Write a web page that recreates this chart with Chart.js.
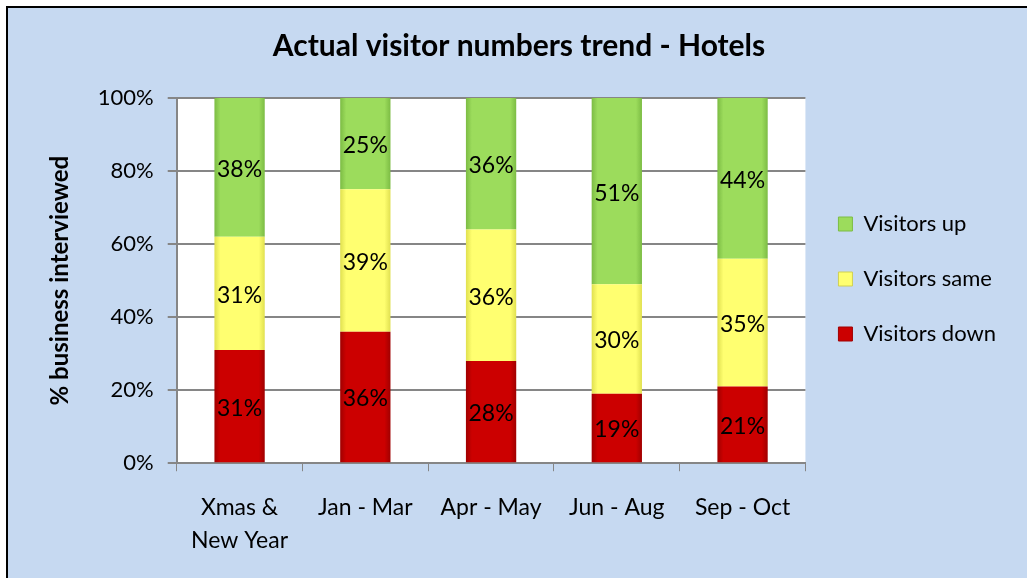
<!DOCTYPE html>
<html>
<head>
<meta charset="utf-8">
<script src="https://cdn.jsdelivr.net/npm/chart.js@4.4.1/dist/chart.umd.min.js"></script>
<style>
  html, body { margin: 0; padding: 0; background: #fff; overflow: hidden; }
  #wrap { position: absolute; left: 0; top: 0; width: 1027px; height: 578px; }
</style>
</head>
<body>
<div id="wrap"><canvas id="chart"></canvas></div>
<script>
const categories = [['Xmas &', 'New Year'], 'Jan - Mar', 'Apr - May', 'Jun - Aug', 'Sep - Oct']
const visitorsDown = [31, 36, 28, 19, 21]
const visitorsSame = [31, 39, 36, 30, 35]
const visitorsUp = [38, 25, 36, 51, 44]
const yTicks = [0, 20, 40, 60, 80, 100]

const FONT = 'Lato, "Open Sans", sans-serif'
const CAT_PCT = 0.8
const BAR_PCT = 0.5

// horizontal shading across each bar: darker edges, flat middle
const shade = (base, edge) => (c) => {
  const chart = c.chart
  const area = chart.chartArea
  if (!area) return base
  const x = chart.scales.x.getPixelForValue(c.dataIndex)
  const half = (area.width / categories.length) * CAT_PCT * BAR_PCT / 2
  const g = chart.ctx.createLinearGradient(x - half, 0, x + half, 0)
  g.addColorStop(0, edge)
  g.addColorStop(0.12, base)
  g.addColorStop(0.88, base)
  g.addColorStop(1, edge)
  return g
}

const background = {
  id: 'background',
  beforeDraw (chart) {
    const { ctx, chartArea } = chart
    ctx.save()
    ctx.fillStyle = '#ffffff'
    ctx.fillRect(0, 0, chart.width, chart.height)
    ctx.fillStyle = '#000000'
    ctx.fillRect(6, 6, chart.width, chart.height)
    ctx.fillStyle = '#c6d9f1'
    ctx.fillRect(8, 8, chart.width, chart.height)
    ctx.fillStyle = '#ffffff'
    ctx.fillRect(chartArea.left, chartArea.top, chartArea.width, chartArea.height)
    ctx.restore()
  }
}

const barLabels = {
  id: 'barLabels',
  afterDatasetsDraw (chart) {
    const ctx = chart.ctx
    ctx.save()
    ctx.font = '23px ' + FONT
    ctx.fillStyle = '#000'
    ctx.textAlign = 'center'
    ctx.textBaseline = 'middle'
    chart.data.datasets.forEach((ds, i) => {
      chart.getDatasetMeta(i).data.forEach((bar, j) => {
        ctx.fillText(ds.data[j] + '%', bar.x, (bar.y + bar.base) / 2 + 2)
      })
    })
    ctx.restore()
  }
}

const ctx = document.getElementById('chart')
new Chart(ctx, {
  type: 'bar',
  data: {
    labels: categories,
    datasets: [
      { label: 'Visitors down', data: visitorsDown, backgroundColor: shade('#cc0000', '#a00000'), borderWidth: 0 },
      { label: 'Visitors same', data: visitorsSame, backgroundColor: shade('#ffff70', '#e0e050'), borderWidth: 0 },
      { label: 'Visitors up', data: visitorsUp, backgroundColor: shade('#9cdc5c', '#7cbc44'), borderWidth: 0 }
    ]
  },
  options: {
    responsive: true,
    maintainAspectRatio: false,
    animation: false,
    categoryPercentage: CAT_PCT,
    barPercentage: BAR_PCT,
    layout: { padding: { left: 32, right: 21, top: 12, bottom: 1 } },
    plugins: {
      title: {
        display: true,
        text: 'Actual visitor numbers trend - Hotels',
        color: '#000',
        font: { family: FONT, size: 30, weight: 'bold' },
        padding: { top: 16, bottom: 34 }
      },
      legend: {
        position: 'right',
        align: 'start',
        reverse: true,
        // empty title only used as a spacer to push the items down
        title: { display: true, text: ' ', font: { size: 10 }, padding: { top: 156, bottom: 0 } },
        labels: {
          color: '#000',
          font: { family: FONT, size: 22 },
          boxWidth: 14,
          boxHeight: 14,
          padding: 33,
          generateLabels (chart) {
            const cols = ['#cc0000', '#ffff70', '#9cdc5c']
            const edges = ['#a00000', '#d0d050', '#7cbc44']
            return chart.data.datasets.map((ds, i) => ({
              text: ds.label,
              fillStyle: cols[i],
              strokeStyle: edges[i],
              lineWidth: 1,
              datasetIndex: i,
              fontColor: '#000'
            }))
          }
        }
      },
      tooltip: { enabled: false }
    },
    scales: {
      x: {
        stacked: true,
        grid: { offset: true, drawOnChartArea: false, drawTicks: true, tickLength: 8, color: '#868686' },
        border: { display: true, color: '#868686', width: 2 },
        ticks: { color: '#000', font: { family: FONT, size: 23, lineHeight: 1.43 }, padding: 20 }
      },
      y: {
        stacked: true,
        min: 0,
        max: 100,
        afterBuildTicks (axis) { axis.ticks = yTicks.map(v => ({ value: v })) },
        grid: { color: '#868686', lineWidth: 2, tickLength: 9 },
        border: { display: true, color: '#868686', width: 2 },
        ticks: { color: '#000', font: { family: FONT, size: 22 }, padding: 14, callback: v => v + '%' },
        title: {
          display: true,
          text: '% business interviewed',
          color: '#000',
          font: { family: FONT, size: 24, weight: 'bold' },
          padding: { top: 14, bottom: 9 }
        }
      }
    }
  },
  plugins: [background, barLabels]
})
</script>
</body>
</html>
